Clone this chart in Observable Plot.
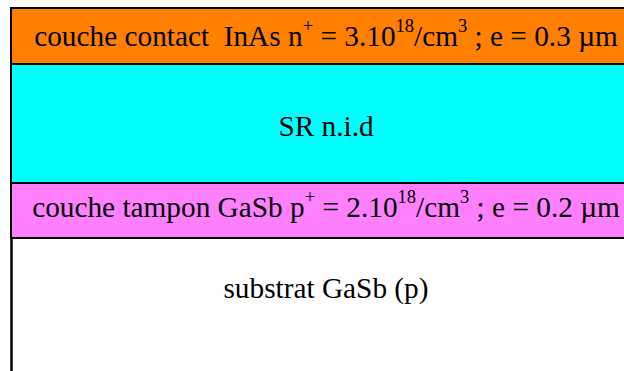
<!DOCTYPE html>
<html><head><meta charset="utf-8">
<script src="https://cdn.jsdelivr.net/npm/d3@7"></script>
<script src="https://cdn.jsdelivr.net/npm/@observablehq/plot@0.6"></script>
<style>
html,body{margin:0;padding:0;background:#fff;overflow:hidden}
</style>
</head><body><div id="chart"></div>
<script>
// Layer stack (depth units, top of stack = 0)
const layerNames = ["contact", "SR", "tampon", "substrat"];
const layerTop = [0, 56, 175, 230];
const layerBottom = [56, 175, 230, 363];
const layerFill = ["#FF8000", "#00FFFF", "#FF80FF", "none"];
const layerLabels = [
  "couche contact  InAs n^{+} = 3.10^{18}/cm^{3} ; e = 0.3 µm",
  "SR n.i.d",
  "couche tampon GaSb p^{+} = 2.10^{18}/cm^{3} ; e = 0.2 µm",
  "substrat GaSb (p)"
];
const labelDepth = [28, 118, 199, 280];
const stackLeft = 0, stackRight = 100;

const layers = layerNames.map((name, i) => ({
  name, top: layerTop[i], bottom: layerBottom[i], fill: layerFill[i],
  label: layerLabels[i], labelY: labelDepth[i], left: stackLeft, right: stackRight
}));
const filled = layers.filter(d => d.fill !== "none");
const open = layers.filter(d => d.fill === "none");

const FONT = "'Liberation Serif', 'Times New Roman', serif";
const FS = 29.3;
const chart = Plot.plot({
  width: 624, height: 371,
  marginTop: 0, marginBottom: 0, marginLeft: 0, marginRight: 0,
  style: {background: "#fff"},
  x: {domain: [stackLeft, stackRight], range: [11, 640], axis: null},
  y: {domain: [0, 363], range: [8, 371], axis: null},
  marks: [
    Plot.rect(filled, {x1: "left", x2: "right", y1: "top", y2: "bottom", fill: "fill", stroke: "#000", strokeWidth: 2}),
    Plot.ruleX(open, {x: "left", y1: "top", y2: "bottom", stroke: "#000", strokeWidth: 2.5}),
    Plot.text(layers, {
      x: d => (d.left + d.right) / 2, y: "labelY",
      text: d => d.label.replace(/\^\{([^}]*)\}/g, "$1"),
      fontSize: FS, fontFamily: FONT, fill: "#000"
    })
  ]
});
document.getElementById("chart").appendChild(chart);

// rebuild labels with superscripts
const supSize = 18.5, supRaise = 14;
d3.select(chart).selectAll('g[aria-label="text"] text').each(function(_, i) {
  const label = layers[i].label;
  const el = d3.select(this);
  el.text(null)
    .attr("font-family", FONT)
    .style("white-space", "pre");
  const parts = label.split(/(\^\{[^}]*\})/).filter(s => s.length);
  let raised = false;
  parts.forEach(p => {
    const m = p.match(/^\^\{([^}]*)\}$/);
    const t = el.append("tspan");
    if (m) {
      t.attr("font-size", supSize).attr("dy", raised ? 0 : -supRaise).text(m[1]);
      raised = true;
    } else {
      if (raised) t.attr("dy", supRaise);
      raised = false;
      t.text(p);
    }
  });
});
</script>
</body></html>
